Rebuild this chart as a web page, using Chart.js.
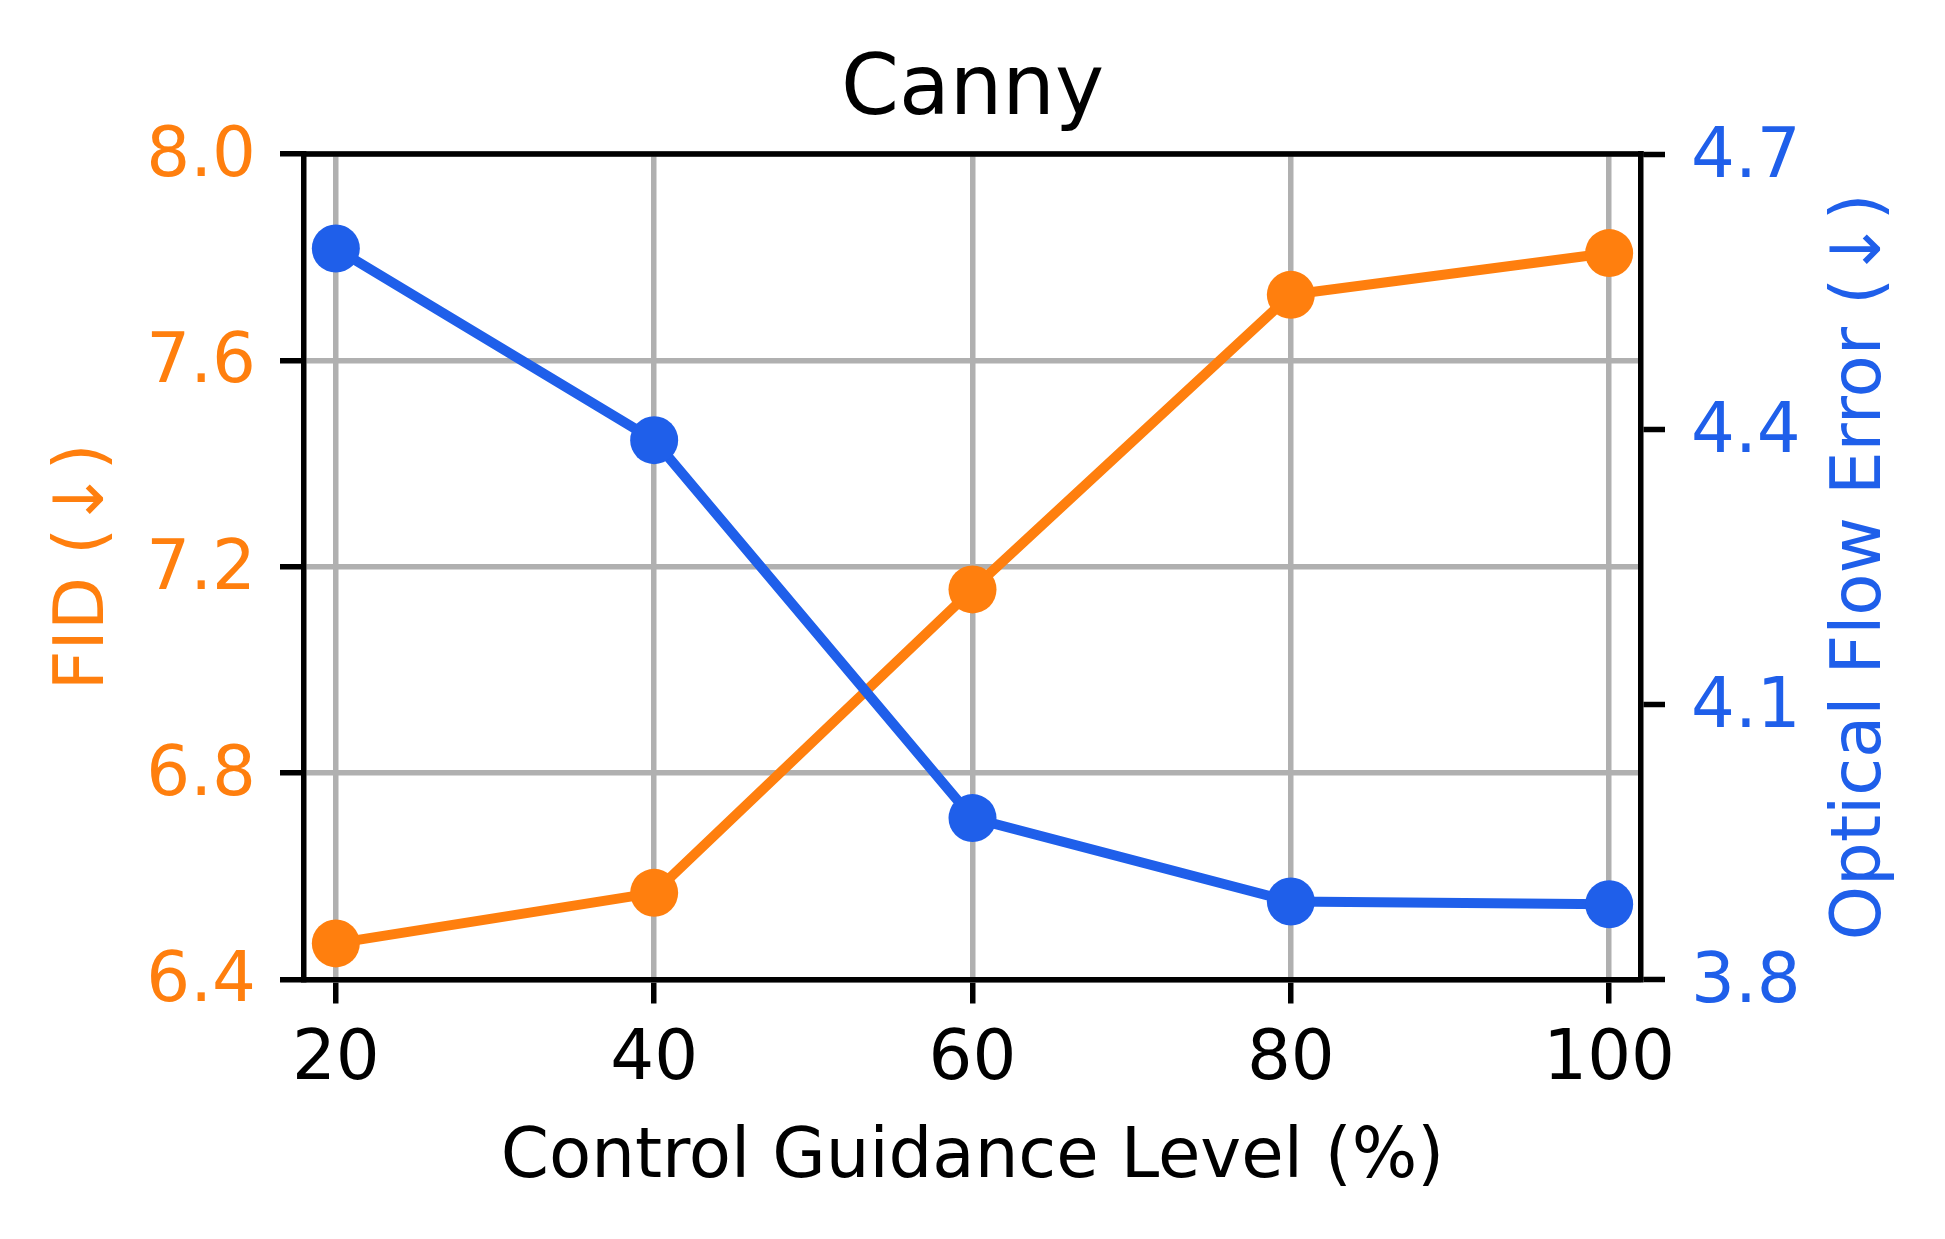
<!DOCTYPE html>
<html>
<head>
<meta charset="utf-8">
<script src="https://cdn.jsdelivr.net/npm/chart.js@4.4.1/dist/chart.umd.min.js"></script>
<style>
  html, body { margin: 0; padding: 0; background: #fff; }
  canvas { display: block; }
</style>
</head>
<body>
<canvas id="canny-chart" width="1945" height="1239"></canvas>
<script>
// values
const guidance = [20, 40, 60, 80, 100]
const fid = [6.47, 6.568, 7.156, 7.727, 7.808]
const flowError = [4.597, 4.388, 3.976, 3.885, 3.882]

const guidanceTicks = [20, 40, 60, 80, 100]
const fidTicks = [6.4, 6.8, 7.2, 7.6, 8.0]
const flowTicks = [3.8, 4.1, 4.4, 4.7]

const orange = '#ff7f0e'
const blue = '#1f5fea'
const font = 'DejaVu Sans'

const toPoints = (xs, ys) => xs.map((x, i) => ({ x: x, y: ys[i] }))
const setTicks = list => scale => { scale.ticks = list.map(v => ({ value: v })) }

// matplotlib draws a top spine and a bottom-to-top right label
const frameExtras = {
  id: 'frameExtras',
  beforeDatasetsDraw(chart) {
    const { ctx, chartArea } = chart
    ctx.save()
    ctx.strokeStyle = '#000'
    ctx.lineWidth = 5.5
    ctx.beginPath()
    ctx.moveTo(chartArea.left - 2.75, chartArea.top)
    ctx.lineTo(chartArea.right + 2.75, chartArea.top)
    ctx.stroke()
    ctx.restore()
  },
  afterDraw(chart) {
    const { ctx, chartArea } = chart
    const s = chart.scales.y1
    ctx.save()
    ctx.translate(s.right - 83, (chartArea.top + chartArea.bottom) / 2)
    ctx.rotate(-Math.PI / 2)
    ctx.fillStyle = blue
    ctx.font = '69px "' + font + '"'
    ctx.textAlign = 'center'
    ctx.textBaseline = 'middle'
    ctx.fillText('Optical Flow Error (↓)', 0, 0)
    ctx.restore()
  }
}

new Chart(document.getElementById('canny-chart'), {
  type: 'line',
  data: {
    datasets: [
      {
        label: 'Optical Flow Error',
        data: toPoints(guidance, flowError),
        yAxisID: 'y1',
        borderColor: blue,
        backgroundColor: blue,
        pointBackgroundColor: blue,
        borderWidth: 10,
        pointRadius: 24,
        pointHoverRadius: 24,
        pointBorderWidth: 0,
        order: 0,
      },
      {
        label: 'FID',
        data: toPoints(guidance, fid),
        yAxisID: 'y',
        borderColor: orange,
        backgroundColor: orange,
        pointBackgroundColor: orange,
        borderWidth: 10,
        pointRadius: 24,
        pointHoverRadius: 24,
        pointBorderWidth: 0,
        order: 1,
      },
    ]
  },
  options: {
    responsive: false,
    devicePixelRatio: 1,
    animation: false,
    layout: { padding: 0 },
    plugins: {
      legend: { display: false },
      tooltip: { enabled: false },
      title: {
        display: true,
        text: 'Canny',
        color: '#000',
        font: { family: font, size: 83, weight: 'normal' },
        padding: { top: 43, bottom: 11.4 },
      },
    },
    scales: {
      x: {
        type: 'linear',
        min: 18,
        max: 102,
        afterBuildTicks: setTicks(guidanceTicks),
        afterFit: s => { s.height = 259.5 },
        grid: { color: '#b0b0b0', lineWidth: 5.5, tickColor: '#000', tickWidth: 5.5, tickLength: 24 },
        border: { color: '#000', width: 5.5 },
        ticks: { color: '#000', font: { family: font, size: 69 }, padding: 16, maxRotation: 0 },
        title: {
          display: true,
          text: 'Control Guidance Level (%)',
          color: '#000',
          font: { family: font, size: 69 },
          padding: 39,
        },
      },
      y: {
        type: 'linear',
        position: 'left',
        min: 6.4,
        max: 8.0,
        afterBuildTicks: setTicks(fidTicks),
        afterFit: s => { s.width = 304 },
        grid: { color: '#b0b0b0', lineWidth: 5.5, tickColor: '#000', tickWidth: 5.5, tickLength: 24 },
        border: { color: '#000', width: 5.5 },
        ticks: { color: orange, font: { family: font, size: 69 }, padding: 24, labelOffset: 4, callback: v => v.toFixed(1) },
        title: {
          display: true,
          text: 'FID (↓)',
          color: orange,
          font: { family: font, size: 69 },
          padding: 44,
        },
      },
      y1: {
        type: 'linear',
        position: 'right',
        min: 3.8,
        max: 4.7,
        afterBuildTicks: setTicks(flowTicks),
        afterFit: s => { s.width = 304 },
        grid: { drawOnChartArea: false, tickColor: '#000', tickWidth: 5.5, tickLength: 24 },
        border: { color: '#000', width: 5.5 },
        ticks: { color: blue, font: { family: font, size: 69 }, padding: 26, labelOffset: 5, callback: v => v.toFixed(1) },
      },
    },
  },
  plugins: [frameExtras],
})
</script>
</body>
</html>
